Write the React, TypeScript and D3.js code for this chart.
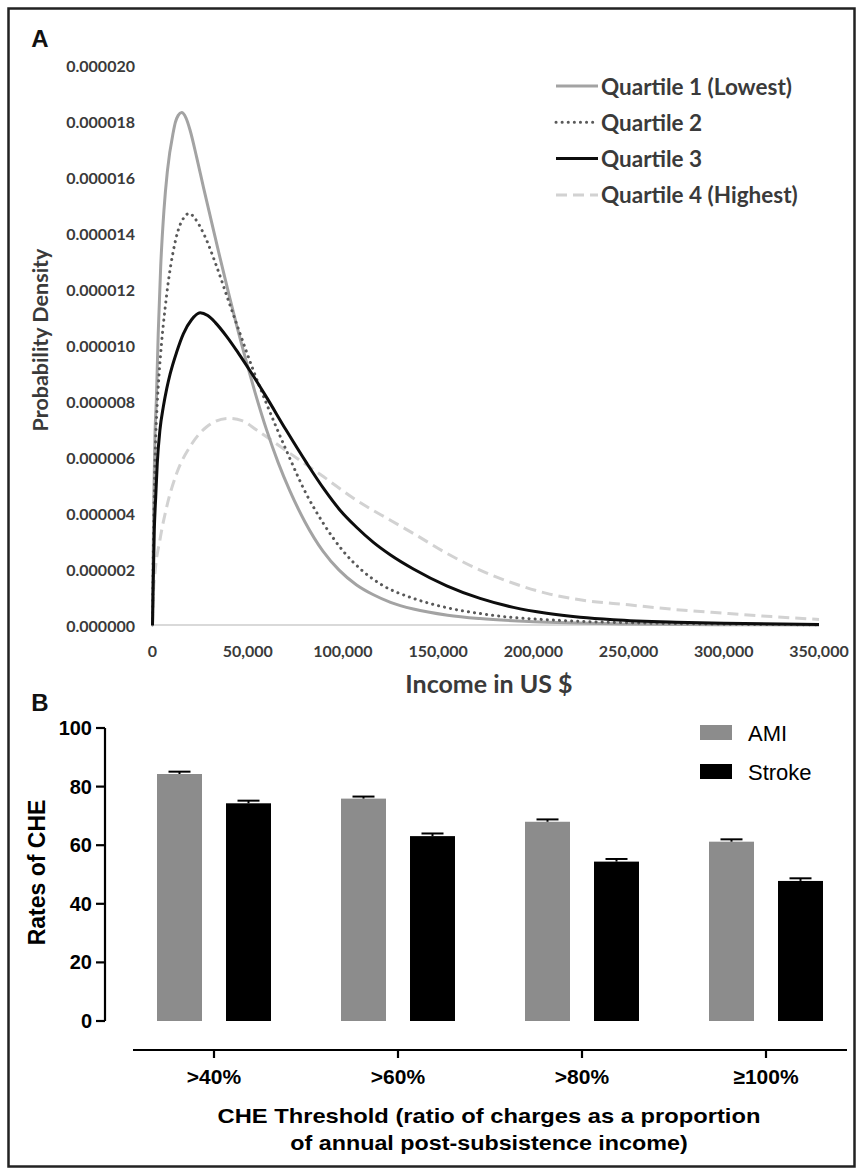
import React from 'react';
import * as d3 from 'd3';

// Panel A: income distributions per quartile (density in 1e-6 units)
const q1Income = [0, 300, 700, 1300, 2000, 3000, 4300, 6000, 7800, 10900, 12000, 13500, 15300, 17500, 19700, 23200, 26700, 31100, 35500, 39800, 44200, 49500, 53800, 60000, 66000, 72200, 80000, 89600, 98000, 107000, 116000, 125000, 137000, 155000, 172000, 200000, 250000, 300000, 350000];
const q1Density = [0, 2.2, 4.6, 6.8, 8.0, 10.4, 12.8, 14.8, 16.2, 17.6, 17.95, 18.2, 18.3, 18.12, 17.68, 16.7, 15.65, 14.37, 13.1, 11.9, 10.7, 9.35, 8.32, 6.95, 5.8, 4.78, 3.69, 2.63, 1.96, 1.44, 1.08, 0.81, 0.57, 0.35, 0.23, 0.12, 0.04, 0.01, 0];

const q2Income = [0, 300, 800, 1500, 2500, 3500, 4800, 6600, 8300, 10900, 13500, 16500, 19300, 22500, 26700, 33700, 39800, 46000, 52900, 59000, 70500, 81000, 90000, 100000, 110000, 120000, 137000, 154500, 172000, 189000, 207000, 225000, 250000, 300000, 350000];
const q2Density = [0, 2.0, 4.2, 6.3, 7.9, 9.0, 10.1, 11.3, 12.25, 13.35, 14.1, 14.55, 14.7, 14.5, 14.0, 12.8, 11.6, 10.4, 9.1, 8.05, 6.2, 4.65, 3.6, 2.65, 1.95, 1.45, 0.95, 0.62, 0.41, 0.27, 0.19, 0.13, 0.08, 0.03, 0.01];

const q3Income = [0, 400, 950, 1700, 2500, 3900, 5700, 7500, 9200, 12700, 16200, 20500, 25000, 29000, 33000, 39000, 45000, 51200, 60000, 70000, 81000, 90000, 98500, 107000, 116000, 125000, 137000, 154500, 172000, 189500, 207000, 224500, 242000, 275000, 300000, 350000];
const q3Density = [0, 1.6, 3.39, 4.58, 5.77, 6.96, 7.8, 8.45, 8.95, 9.75, 10.4, 10.9, 11.15, 11.05, 10.8, 10.3, 9.72, 9.08, 8.12, 6.98, 5.78, 4.86, 4.1, 3.5, 2.95, 2.5, 2.0, 1.4, 0.95, 0.63, 0.42, 0.28, 0.19, 0.1, 0.06, 0.02];

const q4Income = [0, 400, 1300, 3900, 7500, 12700, 19700, 28500, 39800, 47000, 54700, 72200, 89700, 107000, 124700, 137000, 154500, 172000, 189500, 207000, 224500, 250000, 275000, 300000, 325000, 350000];
const q4Density = [0, 1.01, 1.85, 3.04, 4.23, 5.42, 6.37, 7.08, 7.38, 7.3, 6.96, 6.13, 5.3, 4.46, 3.75, 3.27, 2.56, 1.96, 1.49, 1.13, 0.9, 0.72, 0.55, 0.42, 0.3, 0.2];

const quartileNames = ['Quartile 1 (Lowest)', 'Quartile 2', 'Quartile 3', 'Quartile 4 (Highest)'];
const incomeTicks = [0, 50000, 100000, 150000, 200000, 250000, 300000, 350000];
const densityTicks = [0, 0.000002, 0.000004, 0.000006, 0.000008, 0.00001, 0.000012, 0.000014, 0.000016, 0.000018, 0.00002];

// Panel B: rates of CHE
const thresholds = ['>40%', '>60%', '>80%', '\u2265100%'];
const diseases = ['AMI', 'Stroke'];
const amiRates = [84.3, 75.9, 68.0, 61.2];
const amiErr = [0.8, 0.7, 0.8, 0.8];
const strokeRates = [74.3, 63.1, 54.4, 47.8];
const strokeErr = [0.9, 0.9, 0.9, 0.9];
const rateTicks = [0, 20, 40, 60, 80, 100];

const FONT_A = 'Lato, "Open Sans", sans-serif';
const FONT_B = '"Liberation Sans", Arial, sans-serif';
const GREY_TXT = '#3a3a3a';

const lineStyles = [
  { stroke: '#a3a3a3', width: 3, dash: null, cap: 'butt' },
  { stroke: '#595959', width: 3, dash: '0.1 6', cap: 'round' },
  { stroke: '#0d0d0d', width: 3, dash: null, cap: 'butt' },
  { stroke: '#d2d2d2', width: 3, dash: '11 6', cap: 'butt' },
];

export default function App() {
  // ---------- panel A ----------
  const x = d3.scaleLinear().domain([0, 350000]).range([152.5, 819]);
  const y = d3.scaleLinear().domain([0, 0.00002]).range([625, 65]);

  const series = [
    q1Income.map((v, i) => [v, q1Density[i] * 1e-6]),
    q2Income.map((v, i) => [v, q2Density[i] * 1e-6]),
    q3Income.map((v, i) => [v, q3Density[i] * 1e-6]),
    q4Income.map((v, i) => [v, q4Density[i] * 1e-6]),
  ];

  const line = d3.line<number[]>()
    .x(d => x(d[0]))
    .y(d => y(d[1]))
    .curve(d3.curveMonotoneX);

  // draw order: dashed at back, then gray, dotted, black
  const drawOrder = [3, 0, 1, 2];

  // ---------- panel B ----------
  const gx = d3.scaleBand().domain(thresholds).range([122, 858]);
  const inner = d3.scaleBand().domain(diseases).range([-69, 69]).paddingInner(0.348).paddingOuter(0.174);
  const yb = d3.scaleLinear().domain([0, 100]).range([1021, 728]);
  const barColors = { AMI: '#8c8c8c', Stroke: '#000000' };

  const bars = thresholds.flatMap((t, i) => [
    { t, s: 'AMI', v: amiRates[i], e: amiErr[i] },
    { t, s: 'Stroke', v: strokeRates[i], e: strokeErr[i] },
  ]);

  return (
    <svg width={858} height={1170} style={{ position: 'absolute', left: 0, top: 0, background: '#fff' }}>
      <defs>
        <clipPath id="clipB">
          <rect x={20} y={694} width={60} height={40} />
        </clipPath>
      </defs>
      <rect x={8.5} y={8.5} width={846} height={1158} fill="#fff" stroke="#222" strokeWidth={2.5} />

      {/* Panel A */}
      <text x={40} y={38} textAnchor="middle" dominantBaseline="central" fontFamily={FONT_B} fontWeight="bold" fontSize={24} fill="#111">A</text>

      <line x1={x(0)} x2={x(350000)} y1={y(0)} y2={y(0)} stroke="#d9d9d9" strokeWidth={2} />

      {densityTicks.map(t => (
        <text key={t} x={135} y={y(t)} textAnchor="end" dominantBaseline="central"
          fontFamily={FONT_A} fontWeight="bold" fontSize={16} fill={GREY_TXT}>{t.toFixed(6)}</text>
      ))}
      {incomeTicks.map(t => (
        <text key={t} x={x(t)} y={650} textAnchor="middle" dominantBaseline="central"
          fontFamily={FONT_A} fontWeight="bold" fontSize={16} fill={GREY_TXT}>{d3.format(',')(t)}</text>
      ))}

      <text x={489} y={683} textAnchor="middle" dominantBaseline="central"
        fontFamily={FONT_A} fontWeight="bold" fontSize={25} fill={GREY_TXT}>Income in US $</text>
      <text transform="translate(40,340) rotate(-90)" textAnchor="middle" dominantBaseline="central"
        fontFamily={FONT_A} fontWeight="bold" fontSize={21.5} fill={GREY_TXT}>Probability Density</text>

      {drawOrder.map(i => (
        <path key={i} d={line(series[i]) || ''} fill="none" stroke={lineStyles[i].stroke}
          strokeWidth={lineStyles[i].width} strokeDasharray={lineStyles[i].dash || undefined}
          strokeLinecap={lineStyles[i].cap as any} />
      ))}

      {quartileNames.map((name, i) => {
        const ly = 86 + i * 36.3;
        const st = lineStyles[i];
        return (
          <g key={name}>
            <line x1={556} x2={598} y1={ly} y2={ly} stroke={st.stroke} strokeWidth={st.width}
              strokeDasharray={st.dash || undefined} strokeLinecap={st.cap as any} />
            <text x={601} y={ly} dominantBaseline="central" fontFamily={FONT_A} fontWeight="bold"
              fontSize={22.5} fill={GREY_TXT}>{name}</text>
          </g>
        );
      })}

      {/* Panel B */}
      <text x={40} y={702} textAnchor="middle" dominantBaseline="central" fontFamily={FONT_B}
        fontWeight="bold" fontSize={24} fill="#111" clipPath="url(#clipB)">B</text>

      {bars.map(b => {
        const bx = (gx(b.t) as number) + gx.bandwidth() / 2 + (inner(b.s) as number);
        const w = inner.bandwidth();
        const cx = bx + w / 2;
        return (
          <g key={b.t + b.s}>
            <rect x={bx} y={yb(b.v)} width={w} height={yb(0) - yb(b.v)} fill={barColors[b.s]} />
            <line x1={cx} x2={cx} y1={yb(b.v)} y2={yb(b.v + b.e)} stroke="#000" strokeWidth={2} />
            <line x1={cx - 11} x2={cx + 11} y1={yb(b.v + b.e)} y2={yb(b.v + b.e)} stroke="#000" strokeWidth={2} />
          </g>
        );
      })}

      <line x1={105} x2={105} y1={yb(100)} y2={yb(0)} stroke="#000" strokeWidth={2.2} />
      {rateTicks.map(t => (
        <g key={t}>
          <line x1={96} x2={105} y1={yb(t)} y2={yb(t)} stroke="#000" strokeWidth={2.2} />
          <text x={92} y={yb(t)} textAnchor="end" dominantBaseline="central" fontFamily={FONT_B}
            fontWeight="bold" fontSize={20} fill="#000">{t}</text>
        </g>
      ))}
      <text transform={`translate(37,${(yb(0) + yb(100)) / 2 - 2}) rotate(-90)`} textAnchor="middle"
        dominantBaseline="central" fontFamily={FONT_B} fontWeight="bold" fontSize={23} fill="#000">Rates of CHE</text>

      <line x1={133} x2={847} y1={1050} y2={1050} stroke="#000" strokeWidth={2.2} />
      {thresholds.map(t => {
        const cx = (gx(t) as number) + gx.bandwidth() / 2;
        return (
          <g key={t}>
            <line x1={cx} x2={cx} y1={1050} y2={1058} stroke="#000" strokeWidth={2.2} />
            <text x={cx} y={1076} textAnchor="middle" dominantBaseline="central" fontFamily={FONT_B}
              fontWeight="bold" fontSize={21} fill="#000">{t}</text>
          </g>
        );
      })}
      <text transform="translate(489,1116) scale(1.13,1)" textAnchor="middle" dominantBaseline="central"
        fontFamily={FONT_B} fontWeight="bold" fontSize={21} fill="#000">CHE Threshold (ratio of charges as a proportion</text>
      <text transform="translate(489,1143) scale(1.11,1)" textAnchor="middle" dominantBaseline="central"
        fontFamily={FONT_B} fontWeight="bold" fontSize={21} fill="#000">of annual post-subsistence income)</text>

      {diseases.map((s, i) => (
        <g key={s}>
          <rect x={700} y={725 + i * 39} width={32} height={15} fill={barColors[s]} />
          <text x={748} y={733 + i * 39} dominantBaseline="central" fontFamily={FONT_B} fontSize={22} fill="#000">{s}</text>
        </g>
      ))}
    </svg>
  );
}
